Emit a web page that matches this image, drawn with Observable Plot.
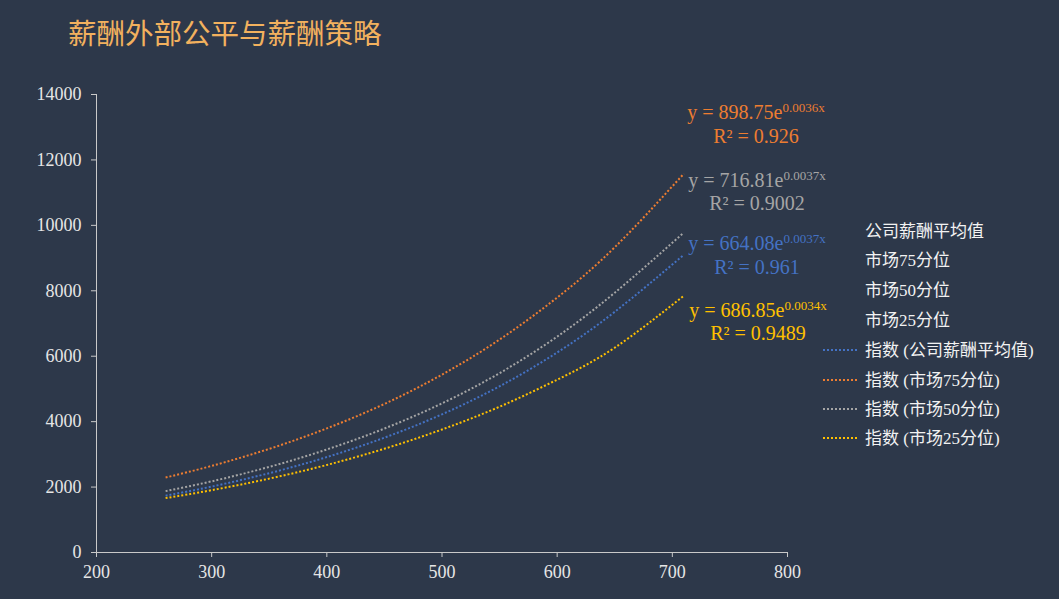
<!DOCTYPE html>
<html><head><meta charset="utf-8">
<script src="https://cdn.jsdelivr.net/npm/d3@7"></script>
<script src="https://cdn.jsdelivr.net/npm/@observablehq/plot@0.6"></script>
<style>
html,body{margin:0;padding:0;background:#2d384a;}
#wrap{width:1059px;height:599px;background:#2d384a;position:relative;overflow:hidden}
#title{height:72px;box-sizing:border-box;padding-left:68px;padding-top:14px;font-family:"Noto Sans CJK SC";font-size:28.5px;color:#f2b15e;line-height:36px;white-space:nowrap}
svg{display:block}
</style></head><body>
<div id="wrap"><div id="title">薪酬外部公平与薪酬策略</div></div>
<script>
const xValues = [260, 300, 350, 400, 450, 500, 550, 600, 650, 710];
// trendline values
const companyAvg = [1738, 2015, 2425, 2917, 3510, 4224, 5081, 6114, 7357, 9100];
const market75   = [2292, 2647, 3168, 3794, 4541, 5437, 6510, 7793, 9330, 11580];
const market50   = [1876, 2175, 2617, 3149, 3789, 4559, 5484, 6600, 7941, 9780];
const market25   = [1663, 1905, 2258, 2676, 3172, 3760, 4456, 5282, 6261, 7850];

const trendNames = ["指数 (公司薪酬平均值)", "指数 (市场75分位)", "指数 (市场50分位)", "指数 (市场25分位)"];
const seriesNames = ["公司薪酬平均值", "市场75分位", "市场50分位", "市场25分位"];
const colors = ["#4472c4", "#ed7d31", "#a5a5a5", "#ffc000"];

const xTicks = [200, 300, 400, 500, 600, 700, 800];
const yTicks = [0, 2000, 4000, 6000, 8000, 10000, 12000, 14000];

// trendline equations (stacked top to bottom: 75, 50, avg, 25)
const eqOrder = [1, 2, 0, 3];
const eqCoef = ["898.75", "716.81", "664.08", "686.85"];
const eqExp = ["0.0036x", "0.0037x", "0.0037x", "0.0034x"];
const eqR2 = ["0.926", "0.9002", "0.961", "0.9489"];

const allSeries = [companyAvg, market75, market50, market25];
const data = [];
allSeries.forEach((vals, k) => vals.forEach((v, i) => data.push({x: xValues[i], y: v, s: trendNames[k]})));

const W = 1059, H = 527, TOP = 72;
const plot = Plot.plot({
  width: W, height: H,
  marginTop: 22, marginBottom: 47, marginLeft: 96, marginRight: 272,
  style: {background: "transparent", color: "#e6e6e6", fontFamily: "'Liberation Serif', serif", fontSize: "18px"},
  x: {domain: [200, 800], label: null},
  y: {domain: [0, 14000], label: null},
  color: {domain: trendNames, range: colors},
  marks: [
    Plot.axisX({ticks: xTicks, tickSize: 5, tickPadding: 8, fontSize: 18, label: null, tickFormat: d3.format("d"), stroke: "#c9c9c9", fill: "#e6e6e6"}),
    Plot.axisY({ticks: yTicks, tickSize: 5, tickPadding: 10, fontSize: 18, label: null, tickFormat: d3.format("d"), stroke: "#c9c9c9", fill: "#e6e6e6"}),
    Plot.ruleY([0], {stroke: "#c9c9c9", strokeWidth: 1}),
    Plot.ruleX([200], {stroke: "#c9c9c9", strokeWidth: 1}),
    Plot.line(data, {x: "x", y: "y", z: "s", stroke: "s", strokeWidth: 2, strokeDasharray: "2,2", strokeLinecap: "butt", curve: "natural"})
  ]
});
document.getElementById("wrap").appendChild(plot);

const svg = d3.select(plot);
// equations
const eqBase = [[119, 143], [187, 210], [250, 274], [317, 340]];
const eqCx = [756, 757, 757, 758];
eqOrder.forEach((k, j) => {
  const g = svg.append("g").attr("fill", colors[k]).attr("font-family", "'Liberation Serif', serif").attr("text-anchor", "middle");
  const t = g.append("text").attr("x", eqCx[j]).attr("y", eqBase[j][0] - TOP).attr("font-size", 20);
  t.append("tspan").text("y = " + eqCoef[j] + "e");
  t.append("tspan").attr("font-size", 13).attr("dy", -7).text(eqExp[j]);
  g.append("text").attr("x", eqCx[j]).attr("y", eqBase[j][1] - TOP).attr("font-size", 20).text("R² = " + eqR2[j]);
});
// legend
const legendLabels = seriesNames.concat(trendNames);
const legendY = [231, 260, 290, 320, 350, 380, 409, 438];
const lg = svg.append("g").attr("font-family", "'Liberation Serif', 'Noto Sans CJK SC', serif").attr("font-size", 17).attr("fill", "#f2f2f2").attr("text-anchor", "start");
legendLabels.forEach((lab, i) => {
  const y = legendY[i] - TOP;
  if (i >= 4) {
    lg.append("line").attr("x1", 823).attr("x2", 859).attr("y1", y).attr("y2", y)
      .attr("stroke", colors[i - 4]).attr("stroke-width", 2).attr("stroke-dasharray", "2,2");
  }
  lg.append("text").attr("x", 865).attr("y", y).attr("dy", "0.35em").text(lab);
});
</script>
</body></html>
